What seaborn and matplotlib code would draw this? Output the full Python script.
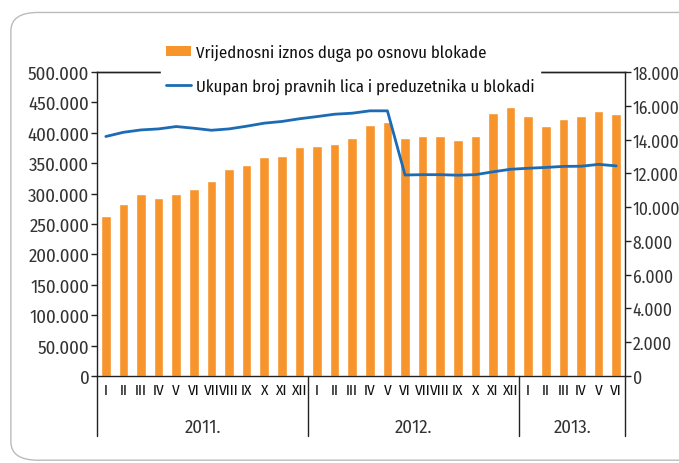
import numpy as np
import pandas as pd
import seaborn as sns
import matplotlib.pyplot as plt
from matplotlib.patches import FancyBboxPatch, Patch
from matplotlib.lines import Line2D
from matplotlib.ticker import FuncFormatter

# ----------------------------------------------------------------------------
# data
# ----------------------------------------------------------------------------
months = ["I", "II", "III", "IV", "V", "VI", "VII", "VIII", "IX", "X", "XI", "XII"] * 2 \
    + ["I", "II", "III", "IV", "V", "VI"]
years = ["2011.", "2012.", "2013."]
months_per_year = [12, 12, 6]

# value of blocked debt (left axis)
debt_value = [263000, 283000, 300000, 292000, 300000, 308000, 320000, 341000, 347000, 361000, 362000, 376000,
              378000, 382000, 392000, 412000, 418000, 391000, 395000, 395000, 388000, 395000, 433000, 442000,
              428000, 411000, 423000, 428000, 436000, 431000]

# number of legal entities and entrepreneurs in blockade (right axis)
entities_count = [14180, 14430, 14570, 14630, 14770, 14670, 14550, 14630, 14790, 14970, 15070, 15230,
                  15360, 15500, 15560, 15700, 15700, 11900, 11920, 11920, 11890, 11920, 12090, 12240,
                  12300, 12350, 12410, 12420, 12530, 12440]

bar_label = "Vrijednosni iznos duga po osnovu blokade"
line_label = "Ukupan broj pravnih lica i preduzetnika u blokadi"

df = pd.DataFrame({"idx": np.arange(len(months)), "debt": debt_value, "count": entities_count})

# ----------------------------------------------------------------------------
# style
# ----------------------------------------------------------------------------
sns.set_style("white")
plt.rcParams["font.family"] = ["Fira Sans Condensed", "DejaVu Sans"]

orange = "#F7952C"
blue = "#1C6BB4"
axis_col = "#222222"

fig = plt.figure(figsize=(6.79, 4.64), dpi=100)
ax = fig.add_axes([0.1429, 0.1875, 0.7776, 0.6552])

# rounded frame around the chart
frame = FancyBboxPatch((0.016, 0.006), 1.2, 0.965, boxstyle="round,pad=0,rounding_size=0.04",
                       transform=fig.transFigure, facecolor="none", edgecolor="#BBBBBB",
                       linewidth=1.0, clip_on=False, zorder=0)
fig.patches.append(frame)

# ----------------------------------------------------------------------------
# plot
# ----------------------------------------------------------------------------
sns.barplot(data=df, x="idx", y="debt", color=orange, width=0.54, saturation=1, ax=ax)
ax.set_ylim(0, 500000)
ax.set_xlim(-0.5, len(months) - 0.5)
ax.set_yticks(np.arange(0, 500001, 50000))
ax.yaxis.set_major_formatter(FuncFormatter(lambda v, p: f"{int(v):,}".replace(",", ".")))

ax2 = ax.twinx()
sns.lineplot(data=df, x="idx", y="count", color=blue, linewidth=2.0, ax=ax2)
ax2.set_ylim(0, 18000)
ax2.set_yticks(np.arange(0, 18001, 2000))
ax2.yaxis.set_major_formatter(FuncFormatter(lambda v, p: f"{int(v):,}".replace(",", ".")))
ax2.set_xlim(-0.5, len(months) - 0.5)

for a, size in ((ax, 13.5), (ax2, 12.6)):
    a.set_xlabel("")
    a.set_ylabel("")
    for s in a.spines.values():
        s.set_color(axis_col)
        s.set_linewidth(1.0)
    a.tick_params(axis="y", direction="out", length=4, width=1, color=axis_col, pad=1.5,
                  labelsize=size, labelcolor="#333333")

ax.spines["right"].set_visible(False)
ax2.spines["left"].set_visible(False)
ax2.spines["bottom"].set_visible(False)

# month labels on minor ticks, short ticks between months
ax.set_xticks(np.arange(-0.5, len(months), 1.0))
ax.set_xticklabels([])
ax.set_xticks(np.arange(len(months)), minor=True)
ax.set_xticklabels(months, minor=True)
ax.tick_params(axis="x", which="major", direction="out", length=3, width=1, color=axis_col)
ax.tick_params(axis="x", which="minor", length=0, pad=5, labelsize=11, labelcolor="#111111")

# year separators and labels
trans = ax.get_xaxis_transform()
edges = np.concatenate([[0], np.cumsum(months_per_year)]) - 0.5
for e in edges:
    ax.plot([e, e], [0, -0.197], transform=trans, color=axis_col, linewidth=1.0, clip_on=False)
for i, y in enumerate(years):
    ax.text((edges[i] + edges[i + 1]) / 2, -0.168, y, transform=trans, ha="center", va="center",
            fontsize=13.5, color="#333333")

# legend (white box hides the middle of the top frame line)
handles = [Patch(facecolor=orange, edgecolor="none"), Line2D([0], [0], color=blue, linewidth=2.0)]
leg = fig.legend(handles, [bar_label, line_label], loc="center", bbox_to_anchor=(0.516, 0.849),
                 frameon=True, facecolor="white", edgecolor="white", framealpha=1, fontsize=12,
                 handlelength=1.5, handleheight=0.6, handletextpad=0.3, labelspacing=1.0,
                 borderpad=0.3, fancybox=False)
for t in leg.get_texts():
    t.set_color("#111111")

fig.savefig("out.png", dpi=100)
